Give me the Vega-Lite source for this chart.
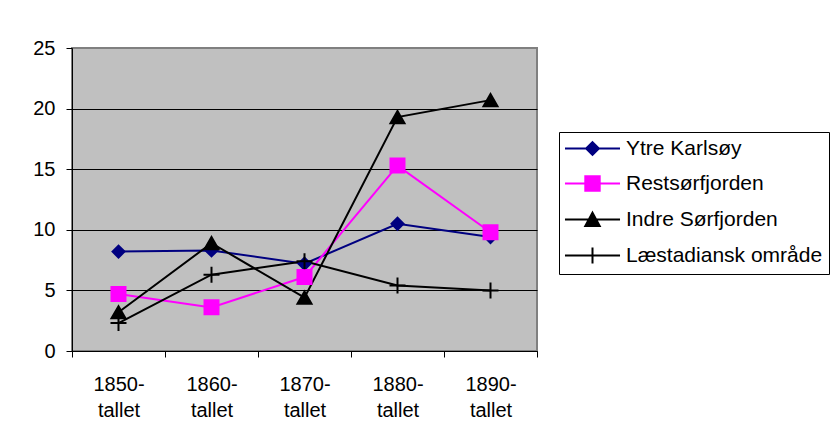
{
  "$schema": "https://vega.github.io/schema/vega-lite/v6.json",
  "width": 465,
  "height": 303,
  "autosize": {"type": "none"},
  "padding": {"left": 72, "top": 48, "right": 298, "bottom": 92},
  "background": "white",
  "config": {
    "font": "Liberation Sans",
    "view": {"fill": "#C0C0C0", "stroke": "#808080", "strokeWidth": 2}
  },
  "data": {
    "values": [
      {"series": "Ytre Karlsøy", "decade": "1850-tallet", "value": 8.2},
      {"series": "Ytre Karlsøy", "decade": "1860-tallet", "value": 8.3},
      {"series": "Ytre Karlsøy", "decade": "1870-tallet", "value": 7.2},
      {"series": "Ytre Karlsøy", "decade": "1880-tallet", "value": 10.5},
      {"series": "Ytre Karlsøy", "decade": "1890-tallet", "value": 9.4},
      {"series": "Restsørfjorden", "decade": "1850-tallet", "value": 4.7},
      {"series": "Restsørfjorden", "decade": "1860-tallet", "value": 3.6},
      {"series": "Restsørfjorden", "decade": "1870-tallet", "value": 6.1},
      {"series": "Restsørfjorden", "decade": "1880-tallet", "value": 15.3},
      {"series": "Restsørfjorden", "decade": "1890-tallet", "value": 9.8},
      {"series": "Indre Sørfjorden", "decade": "1850-tallet", "value": 3.2},
      {"series": "Indre Sørfjorden", "decade": "1860-tallet", "value": 8.9},
      {"series": "Indre Sørfjorden", "decade": "1870-tallet", "value": 4.4},
      {"series": "Indre Sørfjorden", "decade": "1880-tallet", "value": 19.3},
      {"series": "Indre Sørfjorden", "decade": "1890-tallet", "value": 20.7},
      {"series": "Læstadiansk område", "decade": "1850-tallet", "value": 2.3},
      {"series": "Læstadiansk område", "decade": "1860-tallet", "value": 6.3},
      {"series": "Læstadiansk område", "decade": "1870-tallet", "value": 7.4},
      {"series": "Læstadiansk område", "decade": "1880-tallet", "value": 5.4},
      {"series": "Læstadiansk område", "decade": "1890-tallet", "value": 5.0}
    ]
  },
  "encoding": {
    "x": {
      "field": "decade",
      "type": "nominal",
      "sort": null,
      "scale": {"type": "band", "paddingInner": 0, "paddingOuter": 0},
      "axis": {
        "title": null,
        "labelAngle": 0,
        "labelFontSize": 20,
        "labelColor": "black",
        "labelLineHeight": 26,
        "labelPadding": 17,
        "labelExpr": "[substring(datum.label,0,5), substring(datum.label,5)]",
        "tickBand": "extent",
        "tickSize": 6,
        "tickColor": "black",
        "domainColor": "black",
        "domainWidth": 1,
        "grid": false
      }
    },
    "y": {
      "field": "value",
      "type": "quantitative",
      "scale": {"domain": [0, 25], "nice": false},
      "axis": {
        "title": null,
        "values": [0, 5, 10, 15, 20, 25],
        "labelFontSize": 20,
        "labelColor": "black",
        "labelPadding": 11,
        "tickSize": 6,
        "tickColor": "black",
        "domainColor": "black",
        "grid": true,
        "gridColor": {"condition": {"test": "datum.value === 25", "value": "#808080"}, "value": "black"},
        "gridOpacity": 1,
        "gridWidth": 1
      }
    }
  },
  "layer": [
    {
      "mark": {"type": "line", "strokeWidth": 2},
      "encoding": {
        "color": {
          "field": "series",
          "type": "nominal",
          "sort": null,
          "scale": {
            "domain": ["Ytre Karlsøy", "Restsørfjorden", "Indre Sørfjorden", "Læstadiansk område"],
            "range": ["#000080", "#FF00FF", "#000000", "#000000"]
          },
          "legend": {
            "title": null,
            "orient": "none",
            "legendX": 487,
            "legendY": 84,
            "padding": 6,
            "strokeColor": "black",
            "fillColor": "white",
            "cornerRadius": 0,
            "labelFontSize": 21,
            "labelColor": "black",
            "labelFont": "Liberation Sans",
            "labelLimit": 400,
            "symbolSize": 256,
            "symbolOffset": 17,
            "symbolStrokeWidth": 2,
            "labelOffset": 23,
            "rowPadding": 13,
            "encode": {
              "symbols": {
                "update": {
                  "shape": {"signal": "datum.value === 'Ytre Karlsøy' ? 'M-3.44,0H3.44M0,-0.8L0.8,0L0,0.8L-0.8,0Z' : datum.value === 'Restsørfjorden' ? 'M-3.44,0H3.44M-0.9,-0.9H0.9V0.9H-0.9Z' : datum.value === 'Indre Sørfjorden' ? 'M-3.44,0H3.44M0,-0.85L0.9,0.8H-0.9Z' : 'M-3.44,0H3.44M0,-1V1'"},
                  "fill": {"scale": "color", "field": "value"},
                  "strokeWidth": {"value": 2},
                  "opacity": {"value": 1}
                }
              }
            }
          }
        }
      }
    },
    {
      "transform": [{"filter": "datum.series === 'Ytre Karlsøy'"}],
      "mark": {"type": "point", "shape": "diamond", "filled": true, "opacity": 1, "size": 144, "color": "#000080", "stroke": "#000080", "strokeWidth": 2}
    },
    {
      "transform": [{"filter": "datum.series === 'Restsørfjorden'"}],
      "mark": {"type": "point", "shape": "square", "filled": true, "opacity": 1, "size": 196, "color": "#FF00FF", "stroke": "#FF00FF", "strokeWidth": 2}
    },
    {
      "transform": [{"filter": "datum.series === 'Indre Sørfjorden'"}],
      "mark": {"type": "point", "shape": "triangle-up", "filled": true, "opacity": 1, "size": 196, "color": "#000000", "stroke": "#000000", "strokeWidth": 2}
    },
    {
      "transform": [{"filter": "datum.series === 'Læstadiansk område'"}],
      "mark": {"type": "point", "shape": "M-1,0H1M0,-1V1", "filled": false, "opacity": 1, "size": 256, "color": "#000000", "stroke": "#000000", "strokeWidth": 2}
    }
  ]
}
